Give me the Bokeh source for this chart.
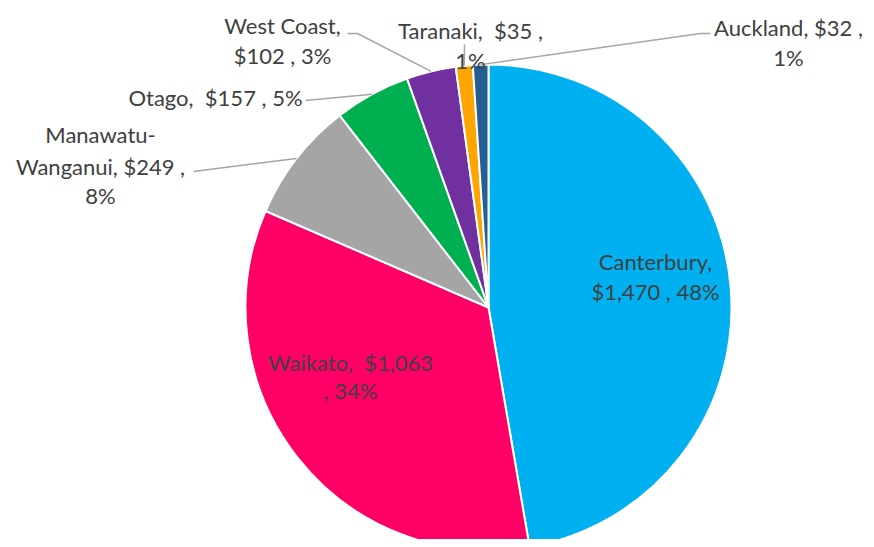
import numpy as np
from bokeh.plotting import figure
from bokeh.models import Range1d
from bokeh.core.properties import value
from bokeh.embed import file_html
from bokeh.resources import INLINE

# ---- data ----
regions = ["Canterbury", "Waikato", "Manawatu-Wanganui", "Otago", "West Coast", "Taranaki", "Auckland"]
values = [1470, 1063, 249, 157, 102, 35, 32]
percents = [48, 34, 8, 5, 3, 1, 1]
colors = ["#00B0F0", "#FF0066", "#A5A5A5", "#00B050", "#7030A0", "#FFA500", "#255E91"]

W, H = 866, 539
p = figure(width=W, height=H, output_backend="svg", toolbar_location=None,
           x_range=Range1d(0, W), y_range=Range1d(0, H), min_border=0)
p.axis.visible = False
p.grid.visible = False
p.outline_line_color = None
p.background_fill_color = "white"


def sx(x):
    return x


def sy(y):
    return H - y


cx, cy, R = sx(488), sy(307), 243
total = float(sum(values))
frac = np.array(values) / total
cum = np.concatenate([[0.0], np.cumsum(frac)])
start = np.pi / 2 - 2 * np.pi * cum[:-1]
end = np.pi / 2 - 2 * np.pi * cum[1:]
mid = (start + end) / 2

p.wedge(x=cx, y=cy, radius=R, start_angle=start, end_angle=end, direction="clock",
        fill_color=colors, line_color="white", line_width=2)

# leader lines: label-side points (screen coords) -> slice edge at mid angle
ex = cx + R * np.cos(mid)
ey = cy + R * np.sin(mid)
leaders = {
    2: [(193, 171)],
    3: [(305, 100)],
    4: [(347, 33), (357, 33)],
    5: [(464, 44)],
    6: [(710, 33), (700, 33)],
}
for i, pts in leaders.items():
    xs = [sx(a) for a, b in pts] + [ex[i]]
    ys = [sy(b) for a, b in pts] + [ey[i]]
    p.line(xs, ys, line_color="#A6A6A6", line_width=1.5)

r, v, pc = regions, values, percents
sp2 = "\u00a0 "
labels = [
    (655, [261, 291], [f"{r[0]},", f"${v[0]:,} , {pc[0]}%"]),
    (350, [362, 390], [f"{r[1]},{sp2}${v[1]:,}", f", {pc[1]}%"]),
    (100, [134, 166, 195], ["Manawatu-", f"Wanganui, ${v[2]:,} ,", f"{pc[2]}%"]),
    (215, [97], [f"{r[3]},{sp2}${v[3]:,} , {pc[3]}%"]),
    (282, [25, 55], [f"{r[4]},", f"${v[4]:,} , {pc[4]}%"]),
    (470, [30, 60], [f"{r[5]},{sp2}${v[5]:,} ,", f"{pc[5]}%"]),
    (788, [27, 57], [f"{r[6]}, ${v[6]:,} ,", f"{pc[6]}%"]),
]
tx, ty, tt = [], [], []
for x, ysl, lines in labels:
    for y, t in zip(ysl, lines):
        tx.append(sx(x))
        ty.append(sy(y))
        tt.append(t)

p.text(x=tx, y=ty, text=tt, text_align="center", text_baseline="middle",
       text_font=value("Lato"), text_font_size="22px", text_color="#404040")

open("out.html", "w").write(file_html(p, INLINE))
